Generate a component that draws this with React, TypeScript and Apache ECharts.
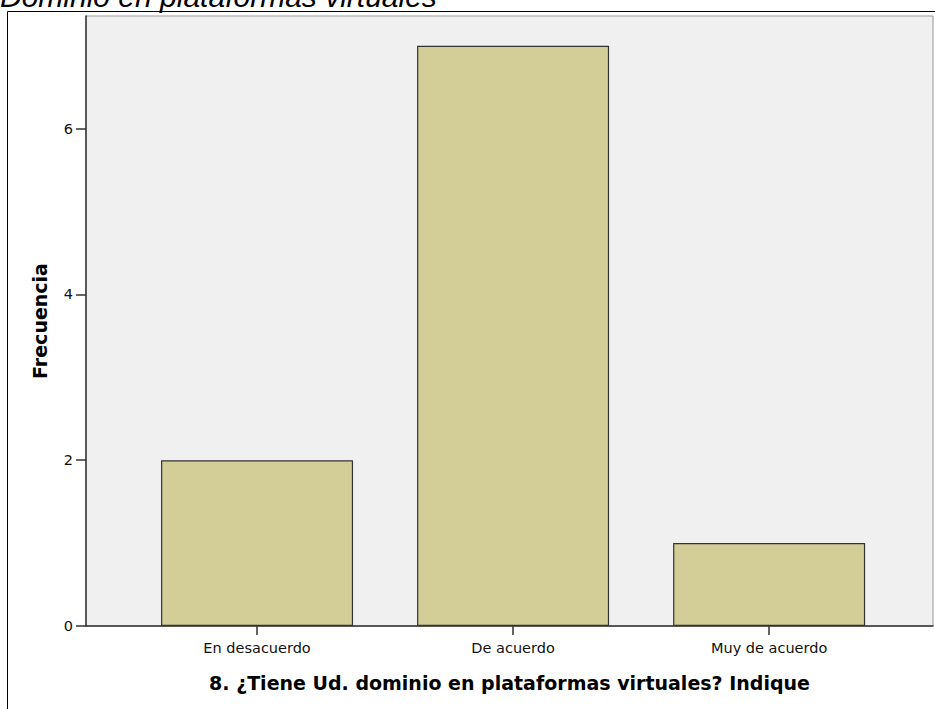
import React, { useEffect, useRef } from "react";
import * as echarts from "echarts";

const categories = ["En desacuerdo", "De acuerdo", "Muy de acuerdo"];
const frequencies = [2, 7, 1];
const yTicks = [0, 2, 4, 6];
const titleText = "Dominio en plataformas virtuales";
const xAxisTitle = "8. ¿Tiene Ud. dominio en plataformas virtuales? Indique";
const yAxisTitle = "Frecuencia";

const labelFont = "'DejaVu Sans', Verdana, sans-serif";

export default function App() {
  const ref = useRef<HTMLDivElement>(null);
  useEffect(() => {
    document.body.style.margin = "0";
    const chart = echarts.init(ref.current!, null, { renderer: "svg" });
    const positions = categories.map((_, i) => i + 1);
    chart.setOption({
      animation: false,
      backgroundColor: "#ffffff",
      textStyle: { fontFamily: labelFont },
      graphic: [
        {
          type: "rect",
          shape: { x: 7.5, y: 11.5, width: 1000, height: 1000 },
          style: { fill: "none", stroke: "#000", lineWidth: 1 },
          z: -10,
        },
        {
          type: "text",
          x: 0,
          y: 11,
          style: {
            text: titleText,
            font: "italic 30px 'Liberation Sans', Arial, sans-serif",
            fill: "#000",
            verticalAlign: "bottom",
            align: "left",
          },
        },
      ],
      grid: {
        left: 86,
        right: 2,
        top: 16,
        bottom: 709 - 626,
        show: true,
        backgroundColor: "#f0f0f0",
        borderColor: "#999999",
        borderWidth: 1,
      },
      xAxis: {
        type: "value",
        min: 0.332,
        max: 3.64,
        splitLine: { show: false },
        axisLine: { show: true, lineStyle: { color: "#333", width: 1.5 } },
        axisTick: {
          show: true,
          length: 9,
          inside: false,
          customValues: positions,
          lineStyle: { color: "#333", width: 1.5 },
        },
        axisLabel: {
          customValues: positions,
          formatter: (v: number) => categories[Math.round(v) - 1] ?? "",
          color: "#111",
          fontSize: 14.5,
          margin: 14,
          fontFamily: labelFont,
        },
        name: xAxisTitle,
        nameLocation: "middle",
        nameGap: 47,
        nameTextStyle: {
          fontSize: 19,
          fontWeight: "bold",
          color: "#000",
          fontFamily: labelFont,
        },
      },
      yAxis: {
        type: "value",
        min: 0,
        max: 7.36,
        splitLine: { show: false },
        axisLine: { show: true, lineStyle: { color: "#333", width: 1.5 } },
        axisTick: {
          show: true,
          length: 10,
          customValues: yTicks,
          lineStyle: { color: "#333", width: 1.5 },
        },
        axisLabel: {
          customValues: yTicks,
          color: "#111",
          fontSize: 14.5,
          margin: 13,
          fontFamily: labelFont,
        },
        name: yAxisTitle,
        nameLocation: "middle",
        nameGap: 37,
        nameRotate: 90,
        nameTextStyle: {
          fontSize: 19,
          fontWeight: "bold",
          color: "#000",
          fontFamily: labelFont,
        },
      },
      series: [
        {
          type: "bar",
          data: frequencies.map((v, i) => [positions[i], v]),
          barWidth: 192,
          itemStyle: {
            color: "#d3ce97",
            borderColor: "#333",
            borderWidth: 1.2,
          },
        },
      ],
    });
    return () => chart.dispose();
  }, []);
  return (
    <div
      ref={ref}
      style={{ position: "absolute", left: 0, top: 0, width: 935, height: 709 }}
    />
  );
}
